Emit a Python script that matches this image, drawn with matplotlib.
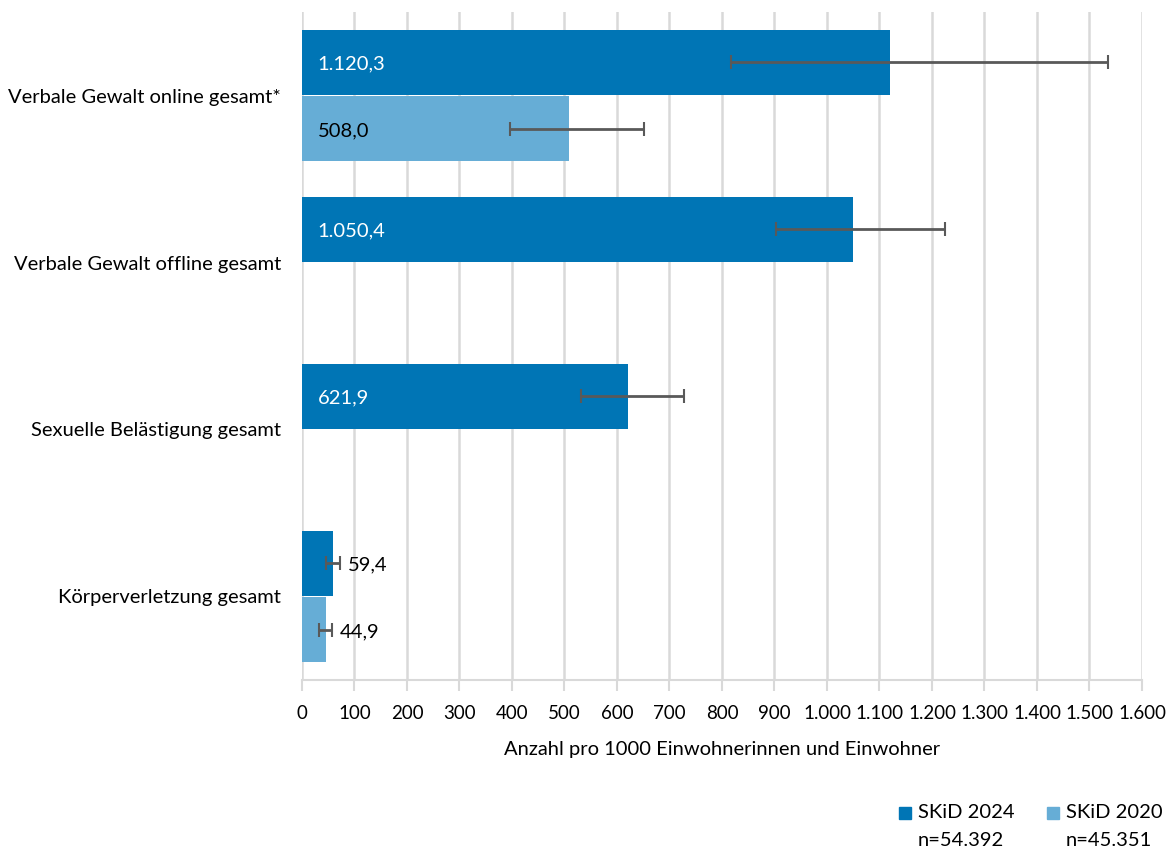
import numpy as np
import matplotlib
matplotlib.use("Agg")
import matplotlib.pyplot as plt
from matplotlib.patches import Rectangle
from matplotlib.ticker import FuncFormatter, MultipleLocator

categories = ["Verbale Gewalt online gesamt*", "Verbale Gewalt offline gesamt",
              "Sexuelle Belästigung gesamt", "Körperverletzung gesamt"]
skid2024 = [1120.3, 1050.4, 621.9, 59.4]
skid2024_lo = [817, 903, 532, 46]
skid2024_hi = [1535, 1224, 727, 73]
skid2020 = [508.0, np.nan, np.nan, 44.9]
skid2020_lo = [396, np.nan, np.nan, 33]
skid2020_hi = [651, np.nan, np.nan, 58]
series_names = ["SKiD 2024", "SKiD 2020"]
series_n = ["n=54.392", "n=45.351"]

C24 = "#0075b5"
C20 = "#66add6"
ERR = "#595959"
GRID = "#d9d9d9"

plt.rcParams["font.family"] = ["Lato", "DejaVu Sans"]

fig = plt.figure(figsize=(11.69, 8.52), dpi=100)
ax = fig.add_axes([0.2583, 0.2019, 0.9769 - 0.2583, 0.9859 - 0.2019])

y = np.arange(len(categories))
h = 0.39
off = 0.2


def de(v, dec=1):
    s = f"{v:,.{dec}f}"
    return s.replace(",", "X").replace(".", ",").replace("X", ".")


for vals, lo, hi, col, dy, txtcol in [
        (skid2024, skid2024_lo, skid2024_hi, C24, -off, "white"),
        (skid2020, skid2020_lo, skid2020_hi, C20, off, "black")]:
    vals = np.array(vals, float)
    lo = np.array(lo, float)
    hi = np.array(hi, float)
    ok = ~np.isnan(vals)
    ax.barh(y[ok] + dy, vals[ok], height=h, color=col, zorder=2)
    ax.errorbar(vals[ok], y[ok] + dy,
                xerr=[vals[ok] - lo[ok], hi[ok] - vals[ok]],
                fmt="none", ecolor=ERR, elinewidth=2, capsize=5, capthick=1.5,
                zorder=3)
    for yi, v in zip(y[ok] + dy, vals[ok]):
        if v >= 100:
            ax.text(30, yi + 0.01, de(v), color=txtcol, va="center", ha="left",
                    fontsize=14.5, zorder=4)
        else:
            ax.text(v + 28, yi + 0.01, de(v), color="black", va="center",
                    ha="left", fontsize=14.5, zorder=4)

ax.set_xlim(0, 1600)
ax.set_ylim(3.5, -0.5)
ax.xaxis.set_major_locator(MultipleLocator(100))
ax.xaxis.set_major_formatter(FuncFormatter(lambda v, p: de(v, 0)))
ax.grid(axis="x", color=GRID, lw=1.8, zorder=0)
ax.set_axisbelow(True)
ax.set_yticks(y)
ax.set_yticklabels(categories, fontsize=14.5)
ax.tick_params(axis="y", length=0, pad=15)
ax.tick_params(axis="x", length=8, color=GRID, width=1.5, labelsize=13.5, pad=10)
for s in ["top", "right", "left"]:
    ax.spines[s].set_visible(False)
ax.spines["bottom"].set_color(GRID)
ax.spines["bottom"].set_linewidth(1.5)
ax.set_xlabel("Anzahl pro 1000 Einwohnerinnen und Einwohner", fontsize=14.5,
              labelpad=14)

# legend
for i, (name, n, col) in enumerate(zip(series_names, series_n, [C24, C20])):
    x0 = 899 + i * 148
    fig.patches.append(Rectangle((x0 / 1169, 1 - 819 / 852), 12 / 1169, 12 / 852,
                                 color=col, transform=fig.transFigure))
    fig.text((x0 + 19) / 1169, 1 - 813 / 852, name, fontsize=14.5, va="center")
    fig.text((x0 + 19) / 1169, 1 - 840 / 852, n, fontsize=14.5, va="center")

fig.savefig("out.png", dpi=100)
